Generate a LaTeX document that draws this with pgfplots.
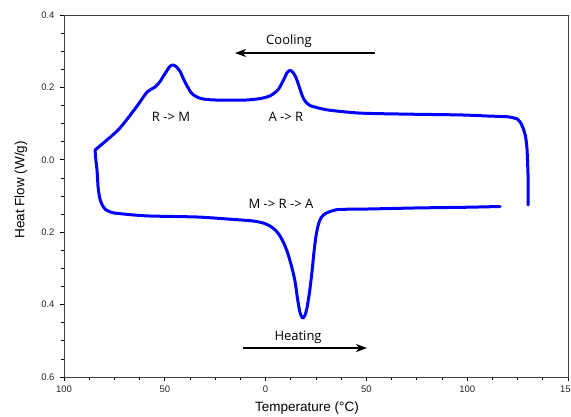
\documentclass[border=0pt]{standalone}
\usepackage{fontspec}
\setmainfont{Liberation Sans}
\newfontfamily\annfont{Open Sans}
\usepackage{pgfplots}
\pgfplotsset{compat=1.18}
\usetikzlibrary{arrows.meta}
\begin{document}
\begin{tikzpicture}
\begin{axis}[
  scale only axis,
  width=504pt, height=362pt,
  xmin=-100, xmax=150, ymin=-0.6, ymax=0.4,
  xtick={-100,-50,0,50,100,150},
  xticklabels={100,50,0,50,100,150},
  ytick={-0.6,-0.4,-0.2,0,0.2,0.4},
  yticklabels={0.6,0.4,0.2,0.0,0.2,0.4},
  minor x tick num=3, minor y tick num=3,
  tick align=outside, tick pos=left,
  major tick length=4pt, minor tick length=3pt,
  every tick/.style={black, line width=0.7pt},
  axis line style={black!75, line width=0.9pt},
  tick label style={font=\fontsize{9.5}{11}\selectfont, text=black!85},
  xticklabel style={yshift=-1pt},
  yticklabel style={xshift=-2pt},
  /pgf/number format/assume math mode=true,
  xlabel={Temperature (°C)},
  ylabel={Heat Flow (W/g)},
  label style={font=\fontsize{13.5}{15}\selectfont},
  x label style={at={(axis description cs:0.482,-0.0856)}, anchor=center},
  y label style={at={(axis description cs:-0.0853,0.517)}, anchor=center, rotate=0},
  clip=false,
]
\coordinate (SW) at (rel axis cs:0,0);
\coordinate (NE) at (rel axis cs:1,1);
% cooling curve
\addplot[blue, line width=3pt, smooth, tension=0.4, line join=round, line cap=round] coordinates {
(130.2,-0.125) (130.2,-0.09) (130.2,-0.048) (129.9,0.0) (129.6,0.035)
(128.9,0.065) (127.7,0.088) (126.3,0.104) (124.7,0.113) (122,0.117)
(119.7,0.119) (110,0.121) (96.4,0.124) (71.6,0.126) (46.8,0.129)
(30.5,0.138) (22.0,0.150) (19.5,0.163) (18.1,0.178) (16.5,0.205)
(15.0,0.228) (13.5,0.242) (12.1,0.247) (10.6,0.240) (8.6,0.217)
(6.5,0.196) (4.7,0.186) (2.0,0.176) (-2.8,0.169) (-10.2,0.165)
(-23.6,0.165) (-30.0,0.167) (-33.5,0.172) (-36.0,0.180) (-37.5,0.190)
(-40.0,0.215) (-42.5,0.245) (-44.5,0.258) (-46.0,0.262) (-47.5,0.258)
(-49.9,0.238) (-52.5,0.215) (-54.9,0.201) (-58.8,0.187) (-63.3,0.152)
(-68.3,0.115) (-73.2,0.082) (-79.7,0.050) (-84.6,0.027)
};
% heating curve
\addplot[blue, line width=3pt, smooth, tension=0.4, line join=round, line cap=round] coordinates {
(-84.6,0.027) (-84.2,0.0) (-83.6,-0.030) (-83.1,-0.075) (-82.3,-0.105)
(-81.2,-0.123) (-79.5,-0.137) (-77,-0.144) (-73.7,-0.148) (-58.8,-0.155)
(-34.0,-0.158) (-17.7,-0.164) (-6.2,-0.169) (-1,-0.175) (2.2,-0.183)
(5,-0.195) (7.1,-0.210) (9.2,-0.232) (11.1,-0.260) (13,-0.297)
(14.6,-0.336) (16,-0.390) (17.1,-0.423) (18.3,-0.437) (19.4,-0.431)
(20.5,-0.410) (21.8,-0.365) (23.0,-0.310) (24.0,-0.255) (25.0,-0.210)
(26.2,-0.178) (27.5,-0.160) (29.5,-0.149) (33,-0.141) (36.9,-0.137)
(50,-0.136) (75,-0.133) (100,-0.131) (116.3,-0.129)
};
\draw[black, line width=1.1pt, -{Stealth[length=11pt,width=8pt,inset=3pt]}] (axis cs:54.3,0.295) -- (axis cs:-15.2,0.295);
\draw[black, line width=1.1pt, -{Stealth[length=11pt,width=8pt,inset=3pt]}] (axis cs:-11.2,-0.52) -- (axis cs:50.3,-0.52);
\node[font=\annfont\fontsize{13}{15}\selectfont] at (axis cs:11.6,0.328) {Cooling};
\node[font=\annfont\fontsize{13}{15}\selectfont] at (axis cs:16.1,-0.49) {Heating};
\node[font=\annfont\fontsize{13}{15}\selectfont] at (axis cs:-46.9,0.118) {R -> M};
\node[font=\annfont\fontsize{13}{15}\selectfont] at (axis cs:10.1,0.118) {A -> R};
\node[font=\annfont\fontsize{13}{15}\selectfont] at (axis cs:7.6,-0.122) {M -> R -> A};
\end{axis}
\pgfresetboundingbox
\path[use as bounding box] ([shift={(-64pt,-39pt)}]SW) rectangle ([shift={(3pt,15pt)}]NE);
\end{tikzpicture}
\end{document}
